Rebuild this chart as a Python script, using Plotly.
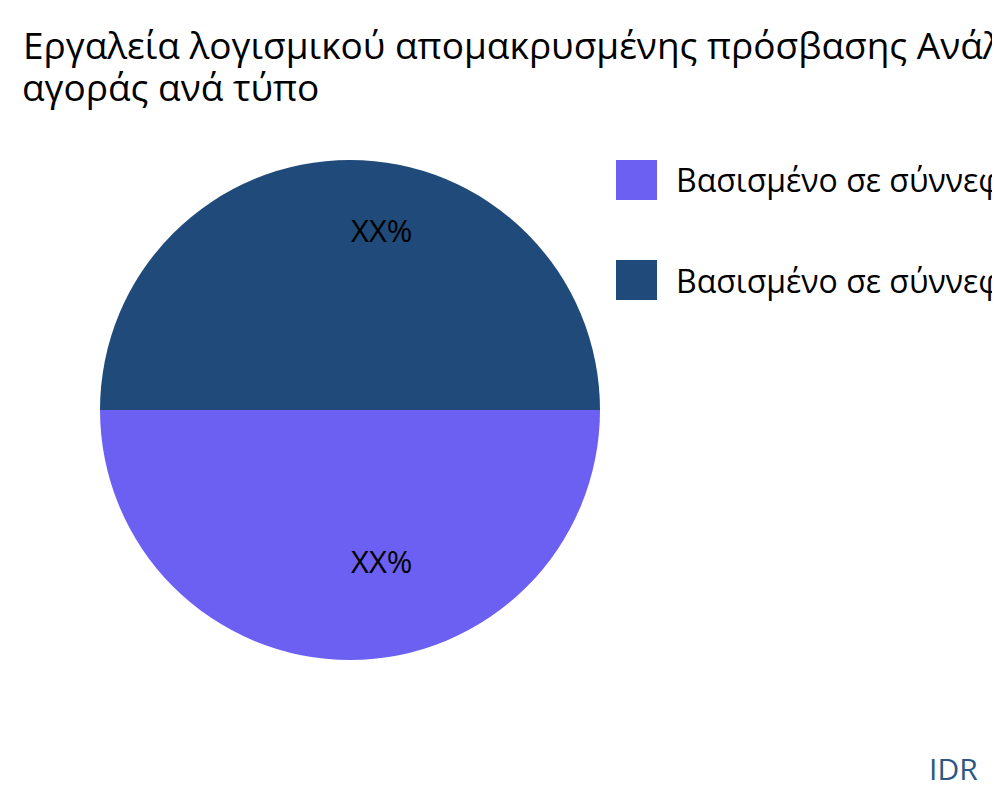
import plotly.graph_objects as go

labels = ["Βασισμένο σε σύννεφο", "Βασισμένο σε σύννεφο και εντός εγκαταστάσεων"]
values = [50, 50]
text_labels = ["XX%", "XX%"]
colors = ["#6c60f2", "#1f4a79"]
title_lines = ["Εργαλεία λογισμικού απομακρυσμένης πρόσβασης Ανάλυση μεριδίου",
               "αγοράς ανά τύπο"]
brand = "IDR"

font_family = "Open Sans, Noto Sans, sans-serif"
W, H = 1000, 800

# pie geometry in layout pixels (style, not data)
pie_left, pie_top, pie_size = 92, 152, 500
cx = pie_left + pie_size / 2

fig = go.Figure()
fig.add_trace(go.Pie(
    labels=labels,
    values=values,
    textinfo="none",
    marker=dict(colors=colors),
    sort=False,
    direction="clockwise",
    rotation=90,
    domain=dict(x=[pie_left / W, (pie_left + pie_size) / W],
                y=[1 - (pie_top + pie_size) / H, 1 - pie_top / H]),
    showlegend=False,
    hoverinfo="label+percent",
))

# slice labels (bottom slice first, then top slice)
label_y = [553, 221.5]
for txt, ly in zip(text_labels, label_y):
    fig.add_annotation(xref="paper", yref="paper", x=(cx - 1.5) / W, y=1 - ly / H,
                       xanchor="left", yanchor="middle", text=txt, showarrow=False,
                       font=dict(family=font_family, size=31, color="#000000"))

# legend with large swatches
for i, (lab, col) in enumerate(zip(labels, colors)):
    top = 152 + i * 100
    bot = top + 40
    fig.add_shape(type="rect", xref="paper", yref="paper",
                  x0=608 / W, x1=649 / W, y0=1 - bot / H, y1=1 - top / H,
                  fillcolor=col, line=dict(width=0))
    fig.add_annotation(xref="paper", yref="paper", x=666 / W, y=1 - (top + 20) / H,
                       xanchor="left", yanchor="middle", text=lab, showarrow=False,
                       font=dict(family=font_family, size=32, color="#000000"))

fig.add_annotation(xref="paper", yref="paper", x=972 / W, y=1 - 760.5 / H,
                   xanchor="right", yanchor="middle", text=brand, showarrow=False,
                   font=dict(family=font_family, size=30, color="#2a5783"))

# second title line (tighter line spacing than plotly's default)
fig.add_annotation(xref="paper", yref="paper", x=12 / W, y=1 - 78 / H,
                   xanchor="left", yanchor="middle", text=title_lines[1], showarrow=False,
                   font=dict(family=font_family, size=37, color="#000000"))

fig.update_layout(
    width=W, height=H,
    margin=dict(l=0, r=0, t=0, b=0),
    paper_bgcolor="white", plot_bgcolor="white",
    title=dict(text=title_lines[0], x=15 / W, xanchor="left", y=1 - 25 / H, yanchor="top",
               font=dict(family=font_family, size=37, color="#000000")),
)

fig.write_html("out.html")
